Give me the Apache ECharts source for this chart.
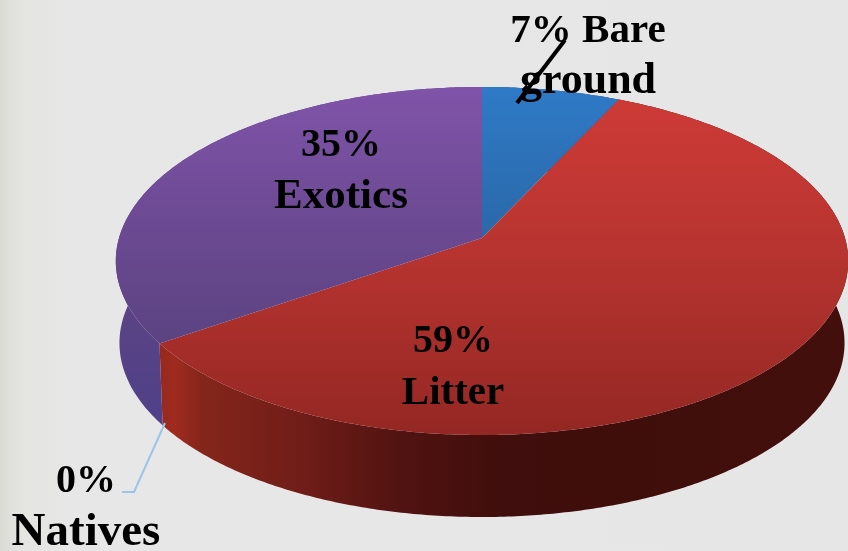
<!DOCTYPE html>
<html>
<head>
<meta charset="utf-8">
<style>html,body{margin:0;padding:0;background:#e6e6e6}</style>
<script src="https://cdn.jsdelivr.net/npm/echarts@6/dist/echarts.min.js"></script>
</head>
<body>
<div id="main" style="width:848px;height:551px;"></div>
<script type="text/javascript">
// 数据
var sliceNames = ['Bare ground', 'Litter', 'Exotics', 'Natives'];
var sliceValues = [7, 59, 35, 0];
var labelLines = [['7% Bare', 'ground'], ['59%', 'Litter'], ['35%', 'Exotics'], ['0%', 'Natives']];

// 透视圆盘的参数
var CX = 482, CY = 238, RX = 363, RY = 171, PERSP = 0.132, DEPTH = 82, BOTTOM_SCALE = 0.99;
// 每个标签两行的中心位置和字号（参考图的字体更宽，所以逐行调整）
var labelPos = [[588, 31], [453, 342], [341, 146], [86, 482]];
var labelSizes = [[41, 44], [40, 41], [40, 43], [40, 47]];
var LINE_GAP = 51;

var total = sliceValues.reduce(function (a, b) { return a + b; }, 0);

function vGrad(y0, y1, stops) {
    return {type: 'linear', x: 0, y: y0, x2: 0, y2: y1, global: true,
        colorStops: stops.map(function (c, i) { return {offset: i / (stops.length - 1), color: c}; })};
}
function hGrad(stops) {
    return {type: 'linear', x: 0, y: 0, x2: 848, y2: 0, global: true,
        colorStops: stops.map(function (s) { return {offset: s[0] / 848, color: s[1]}; })};
}
var topFill = [
    vGrad(87, 240, ['#2f7ac6', '#2a68a8']),
    vGrad(90, 440, ['#cf3b37', '#b5332f', '#932723']),
    vGrad(87, 345, ['#8054a9', '#6d4a94', '#5b4381']),
    '#5b4381'
];
var wallFill = [
    '#1f4f80',
    hGrad([[160, '#96291d'], [175, '#a02b1f'], [200, '#85261b'], [300, '#701d18'], [400, '#511311'], [500, '#400e0c'], [620, '#3f0e0b'], [848, '#430f0c']]),
    vGrad(290, 425, ['#5c4484', '#4f4088']),
    '#4f4088'
];

function project(theta, dy, scale) {
    var X = Math.sin(theta), Y = Math.cos(theta), w = 1 + PERSP * Y;
    return [CX + scale * RX * X / w, CY - RY * Y / w + dy];
}
function arcPoints(a0, a1, dy, scale) {
    var pts = [], n = Math.max(2, Math.ceil((a1 - a0) / 0.01));
    for (var i = 0; i <= n; i++) {
        pts.push(project(a0 + (a1 - a0) * i / n, dy, scale));
    }
    return pts;
}
function sliceAngles(idx) {
    var before = 0;
    for (var i = 0; i < idx; i++) before += sliceValues[i];
    return [before / total * Math.PI * 2, (before + sliceValues[idx]) / total * Math.PI * 2];
}

function renderWall(params, api) {
    if (!api.value(0)) return;
    var a = sliceAngles(params.dataIndex);
    var pts = arcPoints(a[0], a[1], 0, 1).concat(arcPoints(a[0], a[1], DEPTH, BOTTOM_SCALE).reverse());
    return {type: 'polygon', shape: {points: pts}, style: {fill: wallFill[params.dataIndex]}};
}
function renderTop(params, api) {
    if (!api.value(0)) return;
    var a = sliceAngles(params.dataIndex);
    var pts = [[CX, CY]].concat(arcPoints(a[0], a[1], 0, 1));
    return {type: 'polygon', shape: {points: pts}, style: {fill: topFill[params.dataIndex]}};
}

var graphicEls = [];
labelLines.forEach(function (lines, i) {
    lines.forEach(function (t, j) {
        graphicEls.push({
            type: 'text', x: labelPos[i][0], y: labelPos[i][1] + j * LINE_GAP, z: 10,
            style: {
                text: t, fill: '#000', align: 'center', verticalAlign: 'middle',
                font: 'bold ' + labelSizes[i][j] + 'px "Liberation Serif", serif'
            }
        });
    });
});
// 引导线
graphicEls.push({type: 'polyline', z: 11, shape: {points: [[565, 40], [517, 103]]},
    style: {stroke: '#000', lineWidth: 4, fill: null}});
graphicEls.push({type: 'polyline', z: 11, shape: {points: [[165, 423], [134, 492], [122, 492]]},
    style: {stroke: '#9cc3ea', lineWidth: 2, fill: null}});

var chart = echarts.init(document.getElementById('main'));
var seriesData = sliceValues.map(function (v, i) { return {name: sliceNames[i], value: [v]}; });
chart.setOption({
    animation: false,
    backgroundColor: {type: 'linear', x: 0, y: 0, x2: 1, y2: 0,
        colorStops: [{offset: 0, color: '#dcdcd6'}, {offset: 0.025, color: '#e4e4e1'}, {offset: 0.08, color: '#e7e7e7'}, {offset: 1, color: '#e6e6e6'}]},
    series: [
        {type: 'custom', coordinateSystem: 'none', silent: true, z: 2, renderItem: renderWall, data: seriesData},
        {type: 'custom', coordinateSystem: 'none', silent: true, z: 3, renderItem: renderTop, data: seriesData}
    ],
    graphic: graphicEls
});
</script>
</body>
</html>
